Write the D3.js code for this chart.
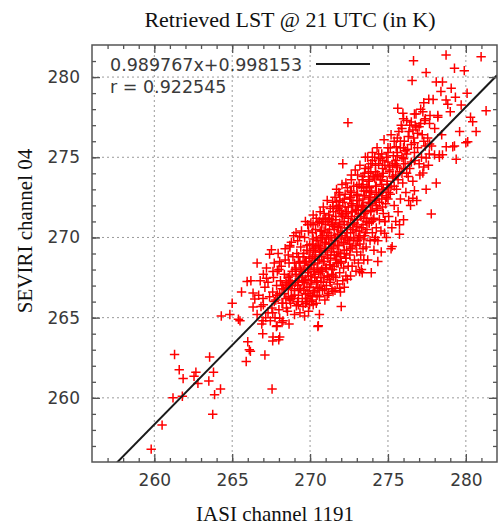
<!DOCTYPE html>
<html>
<head>
<meta charset="utf-8">
<script src="https://cdn.jsdelivr.net/npm/d3@7"></script>
<style>
  body { margin: 0; background: #fff; }
  svg { display: block; }
</style>
</head>
<body>
<svg id="chart"></svg>
<script>
const WIDTH = 500, HEIGHT = 529;
const LEFT = 92, RIGHT = 497, TOP = 45, BOTTOM = 462;

// axis setup (both axes in K)
const domainK = [256, 282];
const majorTicks = [260, 265, 270, 275, 280];
const tickLabels = ["260", "265", "270", "275", "280"];

// regression shown in the legend
const slope = 0.989767, intercept = 0.998153;
const fitLabel = "0.989767x+0.998153";
const rLabel = "r = 0.922545";

const titleText = "Retrieved LST @ 21 UTC  (in K)";
const xTitle = "IASI channel 1191";
const yTitle = "SEVIRI channel 04";

// [IASI, SEVIRI] pairs
const tailLow = [
  [259.8,256.8],[260.5,258.3],[261.2,260.0],[261.8,260.1],[261.3,262.7],[261.6,261.75],[261.85,261.2],
  [262.55,261.35],[262.67,261.6],[262.8,260.9],[263.55,262.55],[263.8,261.6],[263.5,261.05],[263.87,260.2],
  [264.25,260.55],[263.75,258.97],[265.4,264.9],[266.0,263.5],[266.1,263.0],[266.17,262.9],[265.9,262.27],
  [266.96,264.0],[267.1,262.67],[267.6,263.55],[267.99,263.62],[267.88,264.5],[267.56,260.55],[268.65,264.6],
  [266.98,264.8],[268.26,264.8],[264.3,265.1],[264.85,265.2],[265.0,265.9],[265.5,264.8],[266.34,265.66],
  [267.84,264.45],[270.53,264.5],[270.6,265.2],[272.0,265.7],[265.96,267.25],[266.34,266.53],[266.45,266.16],
  [266.98,266.2],[265.6,266.6],[266.2,267.3],[268.05,263.8],[267.62,263.8],[270.5,264.45]
];

const stragglers = [
  [267.4,268.96],[267.52,269.23],[268.7,269.5],[269.33,270.06],[267.62,267.88],[267.2,267.46],[268.05,268.5],
  [271.47,266.63],[271.9,266.84],[273.18,267.88],[273.93,267.8],[274.35,268.5],[274.57,269.1],[275.27,269.43],
  [274.78,270.27],[274.14,269.85],[269.65,265.1],[269.12,265.74],[268.48,265.6],[268.05,264.97],[269.97,265.8],
  [270.94,266.78],[271.26,267.36],[275.74,270.2],[275.2,269.3],[273.3,268.0],[270.2,265.8],[269.87,266.5],
  [269.97,269.54],[270.19,270.79],[270.83,271.1],[271.47,271.93],[271.7,272.24],[271.9,272.65]
];

const core = [
  [266.6,265.2],[266.7,266.4],[266.8,267.3],[266.9,264.6],[267.0,265.8],[267.1,266.9],[267.2,268.1],[267.3,265.3],
  [267.4,266.3],[267.0,267.7],[266.6,268.4],[267.3,267.2],[267.45,264.8],[266.85,265.7],[267.15,265.0],
  [267.55,265.6],[267.6,266.6],[267.65,267.5],[267.7,268.4],[267.75,265.0],[267.8,266.1],[267.85,267.0],[267.9,267.9],
  [267.95,269.0],[268.0,265.5],[268.05,266.5],[268.1,267.3],[268.15,268.2],[268.2,264.7],[268.25,265.9],[268.3,266.8],
  [268.35,267.7],[268.4,268.6],[268.45,266.2],[268.5,267.1],[267.6,265.3],[268.0,268.0],[268.2,267.0],[267.9,266.4],
  [268.4,269.3],
  [268.55,265.4],[268.6,266.3],[268.6,267.5],[268.65,268.4],[268.7,269.4],[268.75,265.9],[268.8,266.8],[268.85,267.9],
  [268.9,268.8],[268.95,270.1],[269.0,265.2],[269.0,266.4],[269.05,267.2],[269.1,268.1],[269.15,269.0],[269.2,269.8],
  [269.25,265.8],[269.3,266.8],[269.3,267.6],[269.35,268.5],[269.4,269.4],[269.45,270.4],[269.5,266.2],[269.5,267.3],
  [268.7,267.0],[268.9,266.2],[269.1,270.3],[269.4,268.0],[268.6,268.9],[269.2,267.0],[268.8,269.7],[269.35,265.3],
  [269.0,268.4],[268.75,267.3],[269.25,268.8],
  [269.55,265.7],[269.55,268.0],[269.6,266.7],[269.6,269.0],[269.65,270.0],[269.7,267.4],[269.7,271.0],[269.75,268.5],
  [269.8,266.2],[269.8,269.5],[269.85,267.8],[269.9,270.4],[269.9,265.4],[269.95,266.9],[270.0,268.3],[270.0,269.1],
  [270.05,270.9],[270.1,267.3],[270.1,266.0],[270.15,268.8],[270.2,269.9],[270.2,271.4],[270.25,267.9],[270.3,266.6],
  [270.3,268.6],[270.35,269.4],[270.35,270.5],[270.4,267.2],[270.4,265.9],[270.45,268.1],[270.45,269.8],[270.5,270.9],
  [270.5,266.9],[269.65,268.4],[269.75,266.0],[269.95,268.7],[270.05,267.6],[270.15,270.3],[270.25,269.2],[269.85,270.8],
  [270.4,271.2],[269.6,267.2],[270.0,266.4],[270.3,267.5],[269.9,268.0],
  [270.55,267.8],[270.55,269.5],[270.6,266.3],[270.6,268.6],[270.65,270.4],[270.65,271.6],[270.7,267.2],[270.7,269.1],
  [270.75,268.0],[270.75,270.9],[270.8,266.7],[270.8,269.9],[270.85,271.9],[270.85,268.5],[270.9,267.5],[270.9,270.4],
  [270.95,269.3],[270.95,266.1],[271.0,268.1],[271.0,271.2],[271.05,267.0],[271.05,270.0],[271.1,268.9],[271.1,272.3],
  [271.15,267.6],[271.15,271.0],[271.2,269.6],[271.2,266.5],[271.25,268.3],[271.25,270.5],[271.3,267.2],[271.3,271.8],
  [271.35,269.1],[271.35,270.1],[271.4,268.0],[271.4,266.8],[271.45,270.8],[271.45,272.2],[271.5,269.4],[271.5,267.6],
  [270.6,271.0],[270.7,270.0],[270.9,271.5],[271.0,269.6],[271.2,271.4],[270.8,267.9],[271.1,266.4],[271.3,268.7],
  [270.65,269.4],[271.4,271.1],
  [271.55,268.2],[271.55,270.7],[271.6,266.7],[271.6,269.8],[271.6,272.5],[271.65,267.5],[271.65,271.3],[271.7,268.9],
  [271.7,273.0],[271.75,270.2],[271.75,267.1],[271.8,271.8],[271.8,268.4],[271.85,269.5],[271.85,272.8],[271.9,267.8],
  [271.9,270.9],[271.95,269.0],[271.95,266.6],[272.0,271.5],[272.0,268.4],[272.05,270.3],[272.05,273.3],[272.1,267.3],
  [272.1,272.2],[272.15,269.6],[272.15,268.1],[272.2,271.0],[272.2,266.9],[272.25,272.7],[272.25,270.0],[272.3,268.7],
  [272.3,267.6],[272.35,271.6],[272.35,269.2],[272.4,273.1],[272.4,270.6],[272.45,268.2],[272.45,271.9],[272.5,269.8],
  [271.6,270.0],[271.7,271.9],[271.9,272.3],[272.0,269.9],[272.2,269.0],[271.8,270.6],[272.4,267.4],[272.1,271.4],
  [271.65,268.6],[272.3,273.4],
  [272.55,268.9],[272.55,272.4],[272.6,270.3],[272.6,267.6],[272.65,271.3],[272.65,273.6],[272.7,269.4],[272.7,268.2],
  [272.75,272.0],[272.75,270.8],[272.8,273.2],[272.8,269.9],[272.85,268.6],[272.9,271.7],[272.9,274.2],[272.95,270.4],
  [272.95,267.9],[273.0,272.6],[273.0,269.1],[273.05,271.1],[273.05,273.9],[273.1,268.4],[273.1,270.0],[273.15,272.3],
  [273.2,269.6],[273.2,274.5],[273.25,271.5],[273.25,268.9],[273.3,273.1],[273.3,270.6],[273.35,272.0],[273.35,267.8],
  [273.4,269.3],[273.4,273.8],[273.45,271.2],[273.5,270.1],[273.5,272.6],[272.6,272.9],[272.85,270.9],[273.0,271.7],
  [273.15,273.3],[273.3,271.9],[272.7,271.6],[273.45,268.6],[273.05,269.8],
  [273.55,271.6],[273.55,274.3],[273.6,269.4],[273.6,272.9],[273.65,270.5],[273.7,275.0],[273.7,268.6],[273.75,272.2],
  [273.8,273.6],[273.8,270.9],[273.85,269.8],[273.9,274.6],[273.9,271.7],[273.95,272.9],[274.0,270.3],[274.0,275.3],
  [274.05,273.8],[274.1,271.2],[274.1,269.2],[274.15,272.4],[274.2,274.1],[274.25,270.6],[274.25,273.2],[274.3,275.6],
  [274.3,271.8],[274.35,269.8],[274.4,272.8],[274.4,274.6],[274.45,271.1],[274.5,273.6],[273.65,273.2],[273.75,274.0],
  [274.0,272.0],[274.2,270.0],[273.95,271.0],[274.35,273.9],[273.6,271.0],[274.15,275.0],[274.45,272.2],[273.85,272.5],
  [274.55,270.4],[274.6,272.6],[274.6,275.2],[274.65,273.8],[274.7,271.5],[274.75,276.1],[274.8,274.5],[274.85,272.1],
  [274.9,270.0],[274.95,273.3],[275.0,275.6],[275.05,271.3],[275.1,274.2],[275.15,272.7],[275.2,276.4],[275.25,270.6],
  [275.3,273.8],[275.35,275.1],[275.4,272.0],[275.45,274.6],[275.5,271.0],[274.7,273.0],[274.9,275.0],[275.2,273.2],
  [275.4,276.0],[274.65,274.8],[275.0,272.4],[275.3,274.5],[274.8,271.0],[275.15,275.6],
  [275.55,273.0],[275.6,275.3],[275.65,271.6],[275.7,276.6],[275.75,274.1],[275.8,272.4],[275.85,277.0],[275.9,275.0],
  [275.95,273.4],[276.0,271.1],[276.05,276.0],[276.1,274.6],[276.15,272.8],[276.2,277.3],[276.25,275.5],[276.3,273.8],
  [276.35,276.6],[276.4,274.3],[276.45,272.0],[276.5,275.8],[275.6,274.4],[276.0,277.4],[276.2,274.0],[275.8,276.0],
  [276.4,277.0],[275.6,276.2],[275.9,276.8],[276.1,275.4],[276.3,276.3],[275.8,275.6],
  [276.6,273.5],[276.65,276.2],[276.7,274.8],[276.8,277.7],[276.85,272.3],[276.9,275.6],[277.0,276.9],[277.05,273.9],
  [277.1,278.0],[277.15,275.0],[277.2,276.4],[277.3,274.4],[277.35,277.3],[277.4,275.7],[277.45,273.0],[276.75,277.0],
  [277.0,274.6],[277.3,278.4],[276.5,277.2],[276.7,275.9],[276.9,276.5],[277.1,277.1],[277.3,276.0],[276.6,276.7],
  [277.55,276.2],[277.6,274.5],[277.7,277.6],[277.8,275.7],[277.9,278.6],[278.0,276.8],[278.1,273.4],[278.2,277.5],
  [278.3,275.0],[278.4,279.1],[277.65,275.2],[278.45,276.4]
];

// the solid band in the middle, row by row
const coreDense = [
  [267.7,266.0],[268.2,265.9],[268.7,266.1],[269.2,266.0],[269.7,265.9],[270.1,266.1],
  [267.9,266.4],[268.35,266.5],[268.8,266.3],[269.25,266.4],[269.7,266.5],[270.15,266.3],[270.45,266.4],
  [268.2,266.8],[268.6,266.9],[269.0,266.7],[269.4,266.8],[269.8,266.9],[270.2,266.7],[270.6,266.8],
  [268.45,267.2],[268.85,267.1],[269.25,267.3],[269.65,267.2],[270.05,267.1],[270.45,267.3],[270.85,267.2],
  [268.7,267.6],[269.1,267.7],[269.5,267.5],[269.9,267.6],[270.3,267.7],[270.7,267.5],[271.1,267.6],[271.4,267.7],
  [269.05,268.0],[269.45,267.9],[269.85,268.1],[270.25,268.0],[270.65,267.9],[271.05,268.1],[271.45,268.0],
  [269.3,268.4],[269.7,268.5],[270.1,268.3],[270.5,268.4],[270.9,268.5],[271.3,268.3],[271.7,268.4],[271.95,268.5],
  [269.55,268.8],[269.95,268.7],[270.35,268.9],[270.75,268.8],[271.15,268.7],[271.55,268.9],[271.95,268.8],[272.3,268.7],
  [269.8,269.2],[270.2,269.3],[270.6,269.1],[271.0,269.2],[271.4,269.3],[271.8,269.1],[272.2,269.2],[272.6,269.3],
  [270.15,269.6],[270.55,269.5],[270.95,269.7],[271.35,269.6],[271.75,269.5],[272.15,269.7],[272.55,269.6],[272.95,269.5],
  [270.4,270.0],[270.8,270.1],[271.2,269.9],[271.6,270.0],[272.0,270.1],[272.4,269.9],[272.8,270.0],[273.2,270.1],[273.45,269.9],
  [270.75,270.4],[271.15,270.3],[271.55,270.5],[271.95,270.4],[272.35,270.3],[272.75,270.5],[273.15,270.4],[273.55,270.3],
  [271.0,270.8],[271.4,270.9],[271.8,270.7],[272.2,270.8],[272.6,270.9],[273.0,270.7],[273.4,270.8],[273.8,270.9],
  [271.25,271.2],[271.65,271.1],[272.05,271.3],[272.45,271.2],[272.85,271.1],[273.25,271.3],[273.65,271.2],[274.05,271.1],
  [271.5,271.6],[271.9,271.7],[272.3,271.5],[272.7,271.6],[273.1,271.7],[273.5,271.5],[273.9,271.6],[274.3,271.7],
  [271.85,272.0],[272.25,271.9],[272.65,272.1],[273.05,272.0],[273.45,271.9],[273.85,272.1],[274.25,272.0],[274.65,271.9],
  [272.2,272.4],[272.6,272.5],[273.0,272.3],[273.4,272.4],[273.8,272.5],[274.2,272.3],[274.6,272.4],[274.9,272.5],
  [272.65,272.8],[273.05,272.7],[273.45,272.9],[273.85,272.8],[274.25,272.7],[274.65,272.9],[275.05,272.8],
  [273.0,273.2],[273.4,273.3],[273.8,273.1],[274.2,273.2],[274.6,273.3],[275.0,273.1],[275.4,273.2],
  [273.35,273.6],[273.75,273.5],[274.15,273.7],[274.55,273.6],[274.95,273.5],[275.35,273.7],[275.65,273.6],
  [273.5,274.0],[273.9,274.1],[274.3,273.9],[274.7,274.0],[275.1,274.1],[275.5,273.9],[275.9,274.0],
  [273.75,274.4],[274.2,274.5],[274.65,274.3],[275.1,274.4],[275.55,274.5],[276.0,274.3],
  [274.0,274.8],[274.5,274.9],[275.0,274.7],[275.5,274.8],[276.0,274.9],[276.5,274.7],
  [274.4,275.2],[275.0,275.3],[275.6,275.1],[276.2,275.2],[276.7,275.3]
];

const tailHigh = [
  [272.43,277.16],[272.1,274.6],[273.55,275.0],[272.65,273.9],[276.64,281.02],[278.73,281.38],[280.98,281.27],
  [277.45,280.28],[279.27,280.55],[279.9,280.4],[276.55,279.78],[278.1,279.7],[278.5,279.7],[279.06,279.3],
  [280.08,278.99],[277.62,278.62],[278.73,278.57],[279.33,278.74],[279.7,278.26],[278.84,278.3],[280.44,277.22],
  [280.66,276.6],[281.3,277.9],[280.12,275.97],[279.38,274.88],[275.63,278.06],[275.96,277.75],[276.7,277.7],
  [277.24,277.84],[279.0,277.84],[278.2,277.6],[278.3,275.15],[279.16,275.66],[278.74,275.66],[280.0,275.9],
  [279.27,275.7],[278.5,275.15],[277.99,275.15],[277.45,274.95],[277.24,274.02],[277.78,271.47],[276.7,272.92],
  [276.6,272.45],[276.33,272.3],[275.74,270.79],[274.8,271.0],[277.67,275.83],[276.8,276.88],[277.4,277.4],
  [277.67,277.1],[275.53,275.66],[276.0,275.6],[280.3,277.5],[279.6,276.6]
];

const svg = d3.select("#chart").attr("width", WIDTH).attr("height", HEIGHT);

const x = d3.scaleLinear().domain(domainK).range([LEFT, RIGHT]);
const y = d3.scaleLinear().domain(domainK).range([BOTTOM, TOP]);

svg.append("clipPath").attr("id", "plotclip")
  .append("rect").attr("x", LEFT).attr("y", TOP)
  .attr("width", RIGHT - LEFT).attr("height", BOTTOM - TOP);

// dotted grid
const grid = svg.append("g").attr("stroke", "#9a9a9a").attr("stroke-dasharray", "2,3").attr("stroke-width", 1);
majorTicks.forEach(v => {
  grid.append("line").attr("x1", x(v)).attr("x2", x(v)).attr("y1", TOP).attr("y2", BOTTOM);
  grid.append("line").attr("x1", LEFT).attr("x2", RIGHT).attr("y1", y(v)).attr("y2", y(v));
});

// points
const allPoints = tailLow.concat(stragglers, core, coreDense, tailHigh);
svg.append("g").attr("clip-path", "url(#plotclip)")
  .selectAll("path").data(allPoints).enter().append("path")
  .attr("transform", d => `translate(${x(d[0])},${y(d[1])})`)
  .attr("d", "M-4.7,0H4.7M0,-4.7V4.7")
  .attr("stroke", "#ff0000").attr("stroke-width", 1.5).attr("fill", "none");

// fit line
svg.append("line").attr("clip-path", "url(#plotclip)")
  .attr("x1", x(domainK[0])).attr("y1", y(slope * domainK[0] + intercept))
  .attr("x2", x(domainK[1])).attr("y2", y(slope * domainK[1] + intercept))
  .attr("stroke", "#1a1a1a").attr("stroke-width", 2);

// axes: ticks inward on all four sides
const minor = d3.range(257, 282);
const axisColor = "#555";
svg.append("g").attr("transform", `translate(0,${BOTTOM})`)
  .call(d3.axisBottom(x).tickValues(minor).tickSize(-4).tickFormat(""));
svg.append("g").attr("transform", `translate(0,${BOTTOM})`)
  .call(d3.axisBottom(x).tickValues(majorTicks).tickSize(-8).tickPadding(12).tickFormat((d, i) => tickLabels[i]));
svg.append("g").attr("transform", `translate(0,${TOP})`)
  .call(d3.axisTop(x).tickValues(minor).tickSize(-4).tickFormat(""));
svg.append("g").attr("transform", `translate(0,${TOP})`)
  .call(d3.axisTop(x).tickValues(majorTicks).tickSize(-8).tickFormat(""));
svg.append("g").attr("transform", `translate(${LEFT},0)`)
  .call(d3.axisLeft(y).tickValues(minor).tickSize(-4).tickFormat(""));
svg.append("g").attr("transform", `translate(${LEFT},0)`)
  .call(d3.axisLeft(y).tickValues(majorTicks).tickSize(-8).tickPadding(12).tickFormat((d, i) => tickLabels[i]));
svg.append("g").attr("transform", `translate(${RIGHT},0)`)
  .call(d3.axisRight(y).tickValues(minor).tickSize(-4).tickFormat(""));
svg.append("g").attr("transform", `translate(${RIGHT},0)`)
  .call(d3.axisRight(y).tickValues(majorTicks).tickSize(-8).tickFormat(""));

svg.selectAll(".domain").remove();
svg.selectAll(".tick line").attr("stroke", axisColor).attr("stroke-width", 1.3);
svg.selectAll(".tick text").attr("fill", "#3a3a3a")
  .style("font-family", "DejaVu Sans").style("font-size", "17px");

svg.append("rect").attr("x", LEFT).attr("y", TOP)
  .attr("width", RIGHT - LEFT).attr("height", BOTTOM - TOP)
  .attr("fill", "none").attr("stroke", axisColor).attr("stroke-width", 1.5);

// legend
svg.append("text").attr("x", 110).attr("y", 71).text(fitLabel)
  .attr("fill", "#3a3a3a").style("font-family", "DejaVu Sans").style("font-size", "17.5px");
svg.append("line").attr("x1", 316).attr("x2", 370).attr("y1", 64).attr("y2", 64)
  .attr("stroke", "#1a1a1a").attr("stroke-width", 2);
svg.append("text").attr("x", 110).attr("y", 93).text(rLabel)
  .attr("fill", "#3a3a3a").style("font-family", "DejaVu Sans").style("font-size", "17.5px");

// titles
svg.append("text").attr("x", 290).attr("y", 27).attr("text-anchor", "middle").text(titleText)
  .attr("fill", "#111").style("font-family", "Liberation Serif").style("font-size", "22px");
svg.append("text").attr("x", 275).attr("y", 521).attr("text-anchor", "middle").text(xTitle)
  .attr("fill", "#111").style("font-family", "Liberation Serif").style("font-size", "21px");
svg.append("text").attr("transform", "translate(32,231) rotate(-90)").attr("text-anchor", "middle").text(yTitle)
  .attr("fill", "#111").style("font-family", "Liberation Serif").style("font-size", "21px");
</script>
</body>
</html>
